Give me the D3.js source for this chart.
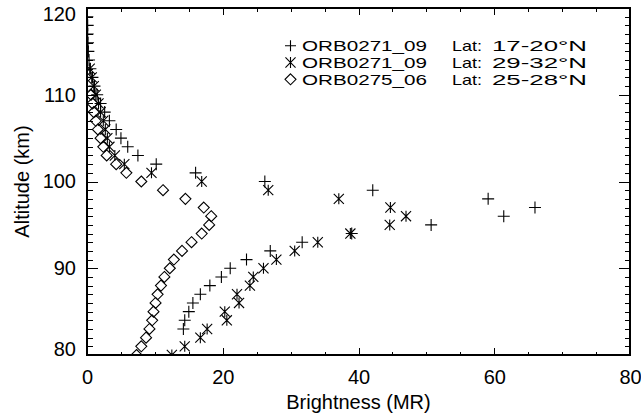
<!DOCTYPE html>
<html>
<head>
<meta charset="utf-8">
<script src="https://cdn.jsdelivr.net/npm/d3@7"></script>
<style>
  html, body { margin: 0; padding: 0; background: #fff; }
  svg { display: block; }
  text { font-family: "Liberation Sans", Arial, sans-serif; fill: #000; }
</style>
</head>
<body>
<svg id="chart" width="641" height="420"></svg>
<script>
// ---- data ----
const plusAlt = [83,84,85,86,87,88,89,90,91,92,93,94,95,96,97,98,99,100,101,102,103,104,105,106,107,108,109,110,111,112,113,114,115,116,117,118,119,120];
const plusVal = [14.2,14.4,15.0,15.6,16.7,18.1,19.8,21.1,23.5,27.0,31.7,39.0,50.7,61.4,66.0,59.1,42.1,26.2,16.0,10.2,7.5,6.0,5.0,4.3,3.3,2.6,2.0,1.5,1.1,0.8,0.5,0.3,0.2,0.15,0.1,0.1,0.05,0.05];

const starAlt = [80,81,82,83,84,85,86,87,88,89,90,91,92,93,94,95,96,97,98,99,100,101,102,103,104,105,106,107,108,109,110,111,112,113];
const starVal = [12.5,14.4,16.7,17.7,20.6,20.3,22.4,22.1,24.0,24.5,26.0,27.9,30.6,34.0,38.8,44.6,47.0,44.7,37.1,26.7,16.9,9.5,5.5,4.1,3.3,3.0,2.7,2.4,2.0,1.7,1.3,1.0,0.7,0.4];

const diamAlt = [80,81,82,83,84,85,86,87,88,89,90,91,92,93,94,95,96,97,98,99,100,101,102,103,104,105,106,107,108,109,110];
const diamVal = [7.3,8.0,8.7,9.2,9.6,9.8,10.1,10.4,10.9,11.4,12.2,12.8,14.0,15.4,16.9,18.0,18.3,17.2,14.5,11.2,8.0,5.8,4.3,2.9,2.4,2.0,1.6,1.3,1.0,0.8,0.6];

const seriesNames = ["ORB0271_09", "ORB0271_09", "ORB0275_06"];
const seriesLats = ["17-20°N", "29-32°N", "25-28°N"];
const xTicks = [0, 20, 40, 60, 80];
const yTicks = [80, 90, 100, 110, 120];
const xTitle = "Brightness (MR)";
const yTitle = "Altitude (km)";

// ---- layout ----
const L = 87, R = 630, T = 8, B = 355;
const x = d3.scaleLinear().domain([0, 80]).range([L, R]);
const y = d3.scaleLinear().domain([80, 120]).range([B, T]);

const svg = d3.select("#chart");

svg.append("defs").append("clipPath").attr("id", "clip")
  .append("rect").attr("x", L).attr("y", T).attr("width", R - L).attr("height", B - T);

function plusPath(cx, cy, s) { return `M${cx - s},${cy}H${cx + s}M${cx},${cy - s}V${cy + s}`; }
function starPath(cx, cy, s) {
  const d = s * 0.92;
  return `M${cx},${cy - s}V${cy + s}M${cx - d},${cy - d}L${cx + d},${cy + d}M${cx - d},${cy + d}L${cx + d},${cy - d}`;
}
function diamPath(cx, cy, s) { return `M${cx},${cy - s}L${cx + s},${cy}L${cx},${cy + s}L${cx - s},${cy}Z`; }

const series = [
  { alt: plusAlt, val: plusVal, sym: plusPath, size: 6 },
  { alt: starAlt, val: starVal, sym: starPath, size: 5.5 },
  { alt: diamAlt, val: diamVal, sym: diamPath, size: 5.5 }
];

const plot = svg.append("g").attr("clip-path", "url(#clip)");
series.forEach(s => {
  const pts = s.alt.map((a, i) => ({ a, v: s.val[i] }));
  plot.append("g").selectAll("path").data(pts).join("path")
    .attr("d", d => s.sym(x(d.v), y(d.a), s.size))
    .attr("fill", "none").attr("stroke", "#000").attr("stroke-width", 1.1);
});

// ---- axes ----
function styleAxis(g) {
  g.select(".domain").remove();
  g.selectAll("line").attr("stroke", "#000").attr("stroke-width", 1).attr("shape-rendering", "crispEdges");
  g.selectAll("text").attr("font-size", 20).attr("font-family", "Liberation Sans, Arial, sans-serif").attr("fill", "#000");
}
svg.append("g").attr("transform", `translate(0,${B})`)
  .call(d3.axisBottom(x).tickValues(d3.range(0, 81, 5)).tickSize(-3.5).tickFormat(""))
  .call(styleAxis);
svg.append("g").attr("transform", `translate(0,${B})`)
  .call(d3.axisBottom(x).tickValues(xTicks).tickSize(-7).tickPadding(15).tickFormat(d3.format("d")))
  .call(styleAxis);
svg.append("g").attr("transform", `translate(0,${T})`)
  .call(d3.axisTop(x).tickValues(d3.range(0, 81, 5)).tickSize(-3.5).tickFormat(""))
  .call(styleAxis);
svg.append("g").attr("transform", `translate(0,${T})`)
  .call(d3.axisTop(x).tickValues(xTicks).tickSize(-7).tickFormat(""))
  .call(styleAxis);
svg.append("g").attr("transform", `translate(${L},0)`)
  .call(d3.axisLeft(y).tickValues(d3.range(80, 121, 1)).tickSize(-5.5).tickFormat(""))
  .call(styleAxis);
const yAxisG = svg.append("g").attr("transform", `translate(${L},0)`)
  .call(d3.axisLeft(y).tickValues(yTicks).tickSize(-11).tickPadding(11).tickFormat(d3.format("d")))
  .call(styleAxis);
yAxisG.selectAll(".tick text").attr("dy", d => d === 120 ? "0.62em" : d === 80 ? "0.02em" : "0.32em");
svg.append("g").attr("transform", `translate(${R},0)`)
  .call(d3.axisRight(y).tickValues(d3.range(80, 121, 1)).tickSize(-5.5).tickFormat(""))
  .call(styleAxis);
svg.append("g").attr("transform", `translate(${R},0)`)
  .call(d3.axisRight(y).tickValues(yTicks).tickSize(-11).tickFormat(""))
  .call(styleAxis);

svg.append("rect").attr("x", L).attr("y", T).attr("width", R - L).attr("height", B - T)
  .attr("fill", "none").attr("stroke", "#000").attr("stroke-width", 1.2).attr("shape-rendering", "crispEdges");

svg.append("text").attr("x", (L + R) / 2).attr("y", 409).attr("text-anchor", "middle")
  .attr("font-size", 20).text(xTitle);
svg.append("text").attr("transform", `translate(29,${(T + B) / 2}) rotate(-90)`).attr("text-anchor", "middle")
  .attr("font-size", 20).text(yTitle);

// legend
const legY = [51.2, 68, 84.8];
const legSyms = [plusPath, starPath, diamPath];
seriesNames.forEach((name, i) => {
  const cy = legY[i] - 5.5;
  svg.append("path").attr("d", legSyms[i](290.5, cy, 5.5))
    .attr("fill", "none").attr("stroke", "#000").attr("stroke-width", 1.1);
  svg.append("text").attr("x", 302).attr("y", legY[i]).attr("font-size", 15)
    .attr("textLength", 125).attr("lengthAdjust", "spacingAndGlyphs").text(name);
  svg.append("text").attr("x", 452).attr("y", legY[i]).attr("font-size", 15)
    .attr("textLength", 30).attr("lengthAdjust", "spacingAndGlyphs").text("Lat:");
  svg.append("text").attr("x", 492).attr("y", legY[i]).attr("font-size", 15)
    .attr("textLength", 95).attr("lengthAdjust", "spacingAndGlyphs").text(seriesLats[i]);
});
</script>
</body>
</html>
